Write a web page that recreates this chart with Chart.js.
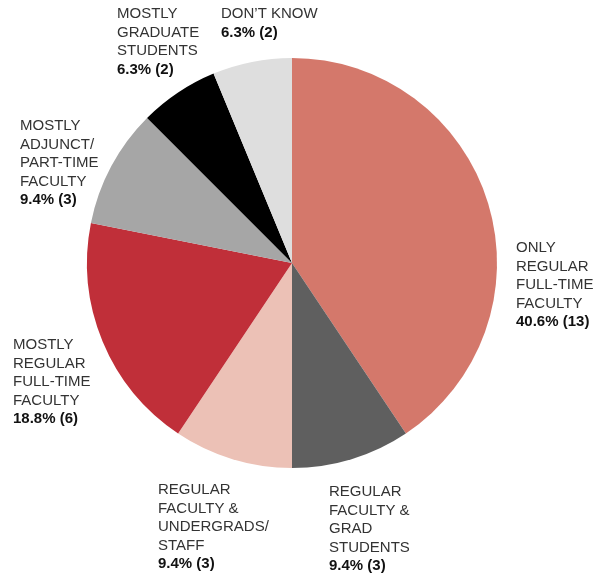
<!DOCTYPE html>
<html>
<head>
<meta charset="utf-8">
<script src="https://cdn.jsdelivr.net/npm/chart.js@4/dist/chart.umd.min.js"></script>
<style>
  html, body { margin: 0; padding: 0; background: #fff; }
  #wrap { width: 598px; height: 583px; position: relative; }
</style>
</head>
<body>
<div id="wrap"><canvas id="pieChart" width="598" height="583"></canvas></div>
<script>
// Data (clockwise from 12 o'clock)
const categories = [
    ['ONLY', 'REGULAR', 'FULL-TIME', 'FACULTY'],
    ['REGULAR', 'FACULTY &', 'GRAD', 'STUDENTS'],
    ['REGULAR', 'FACULTY &', 'UNDERGRADS/', 'STAFF'],
    ['MOSTLY', 'REGULAR', 'FULL-TIME', 'FACULTY'],
    ['MOSTLY', 'ADJUNCT/', 'PART-TIME', 'FACULTY'],
    ['MOSTLY', 'GRADUATE', 'STUDENTS'],
    ['DON\u2019T KNOW']
];
const counts = [13, 3, 3, 6, 3, 2, 2];
const percents = ['40.6%', '9.4%', '9.4%', '18.8%', '9.4%', '6.3%', '6.3%'];

const sliceColors = ['#d4786b', '#5f5f5f', '#ecc1b6', '#c02f39', '#a6a6a6', '#000000', '#dedede'];

// where each label block sits (left x, center of first line y)
const labelSpots = [
    { x: 516, y: 248 },
    { x: 329, y: 492 },
    { x: 158, y: 490 },
    { x: 13,  y: 345 },
    { x: 20,  y: 126 },
    { x: 117, y: 14 },
    { x: 221, y: 14 }
];

const FONT = '"Liberation Sans", Arial, sans-serif';
const LINE_H = 18.5;

const labelPlugin = {
    id: 'sliceLabels',
    afterDraw(chart) {
        const ctx = chart.ctx;
        ctx.save();
        ctx.textAlign = 'left';
        ctx.textBaseline = 'middle';
        categories.forEach((lines, i) => {
            const spot = labelSpots[i];
            let y = spot.y;
            ctx.font = '15px ' + FONT;
            ctx.fillStyle = '#333333';
            lines.forEach(line => {
                ctx.fillText(line, spot.x, y);
                y += LINE_H;
            });
            ctx.font = 'bold 15px ' + FONT;
            ctx.fillStyle = '#111111';
            ctx.fillText(`${percents[i]} (${counts[i]})`, spot.x, y);
        });
        ctx.restore();
    }
};

new Chart(document.getElementById('pieChart'), {
    type: 'pie',
    data: {
        labels: categories.map(c => c.join(' ')),
        datasets: [{
            data: counts,
            backgroundColor: sliceColors,
            borderWidth: 0
        }]
    },
    options: {
        responsive: false,
        animation: false,
        layout: {
            padding: { left: 87, right: 101, top: 58, bottom: 115 }
        },
        plugins: {
            legend: { display: false },
            tooltip: { enabled: false }
        }
    },
    plugins: [labelPlugin]
});
</script>
</body>
</html>
